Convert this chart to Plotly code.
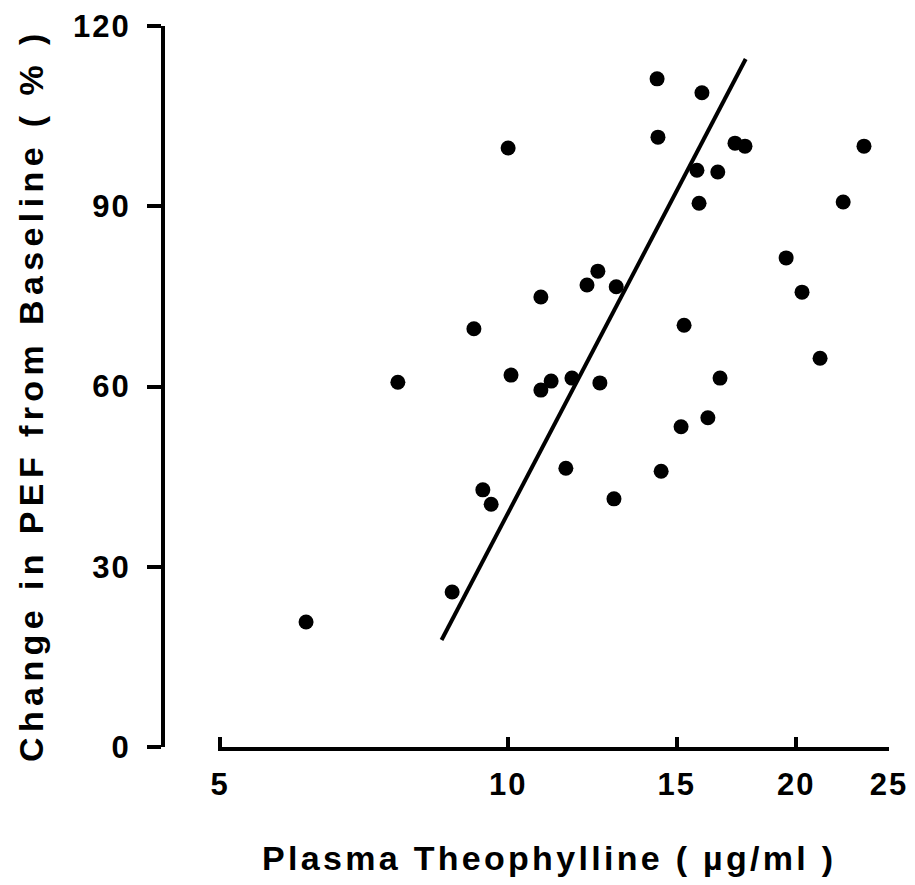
import plotly.graph_objects as go

# Data
theophylline = [6.15, 7.67, 8.74, 9.21, 9.41, 9.60, 10.0, 10.07, 10.82, 10.82,
                11.09, 11.49, 11.66, 12.09, 12.41, 12.47, 12.90, 12.97, 14.31, 14.34,
                14.45, 15.27, 15.16, 15.75, 15.83, 15.94, 16.17, 16.56, 16.65, 17.26,
                17.68, 19.52, 20.28, 21.18, 22.39, 23.54]
pef_change = [20.8, 60.7, 25.8, 69.6, 42.8, 40.4, 99.7, 61.9, 74.9, 59.4,
              60.9, 46.4, 61.4, 76.9, 79.2, 60.6, 41.3, 76.6, 111.2, 101.5,
              45.9, 70.2, 53.3, 96.0, 90.5, 108.9, 54.8, 95.7, 61.4, 100.5,
              100.0, 81.4, 75.7, 64.7, 90.7, 100.0]
fit_x = [8.52, 17.71]
fit_y = [17.8, 114.5]

x_ticks = [5, 10, 15, 20, 25]
y_ticks = [0, 30, 60, 90, 120]

W, H = 915, 885
FONT = "Liberation Sans"


def spaced(s, px):
    return f'<span style="letter-spacing:{px}px">{s}</span>'


fig = go.Figure()
fig.add_trace(go.Scatter(x=theophylline, y=pef_change, mode="markers",
                         marker=dict(color="black", size=15, line=dict(width=0)),
                         showlegend=False))
fig.add_trace(go.Scatter(x=fit_x, y=fit_y, mode="lines",
                         line=dict(color="black", width=4), showlegend=False))

fig.update_layout(
    width=W, height=H,
    margin=dict(l=0, r=0, t=0, b=0),
    paper_bgcolor="white", plot_bgcolor="white",
    font=dict(family=FONT, color="black"),
    xaxis=dict(type="log", range=[0.69688, 1.39794],
               domain=[218 / W, 889 / W], anchor="y",
               showline=True, linewidth=4, linecolor="black",
               ticks="inside", ticklen=10, tickwidth=4, tickcolor="black",
               tickvals=x_ticks, ticktext=[spaced(str(v), 2) for v in x_ticks],
               tickfont=dict(size=31, family=FONT, weight="bold"),
               ticklabelstandoff=7,
               showgrid=False, zeroline=False, automargin=False),
    yaxis=dict(range=[0, 120],
               domain=[(H - 747) / H, (H - 26) / H], anchor="free",
               position=163 / W,
               showline=True, linewidth=4, linecolor="black",
               ticks="outside", ticklen=14, tickwidth=4, tickcolor="black",
               tickvals=y_ticks, ticktext=[spaced(str(v), 2) for v in y_ticks],
               tickfont=dict(size=31, family=FONT, weight="bold"),
               ticklabelstandoff=10,
               showgrid=False, zeroline=False, automargin=False),
    annotations=[
        dict(text=spaced("Plasma Theophylline ( µg/ml )", 3.3), xref="paper", yref="paper",
             x=549 / W, y=(H - 858) / H, showarrow=False,
             xanchor="center", yanchor="middle",
             font=dict(size=34, family=FONT, weight="bold")),
        dict(text=spaced("Change in PEF from Baseline ( % )", 5.4), xref="paper", yref="paper",
             x=31 / W, y=(H - 395) / H, showarrow=False, textangle=-90,
             xanchor="center", yanchor="middle",
             font=dict(size=34, family=FONT, weight="bold")),
    ],
)

fig.write_html("out.html")
